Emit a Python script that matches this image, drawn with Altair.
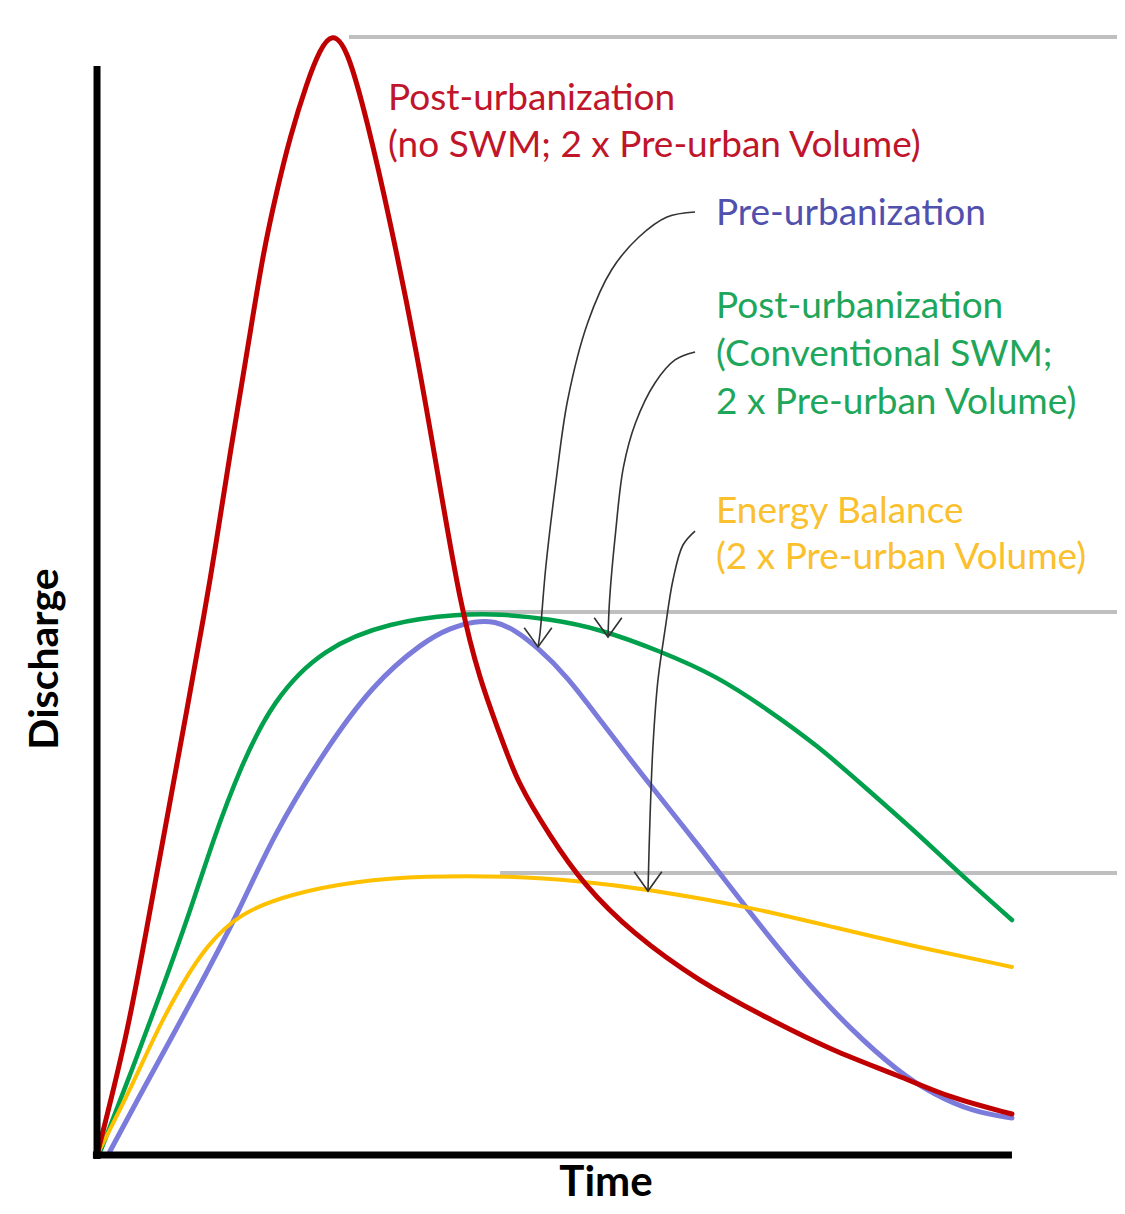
import altair as alt
import pandas as pd

# ---- data (arbitrary units: time 0-100, discharge 0-100) ----
red_time = [0, 3.28, 5.46, 7.65, 9.84, 11.80, 12.90, 14.54, 16.39, 18.14, 19.67, 21.09, 22.95,
            24.37, 25.68, 27.32, 29.51, 32.02, 34.97, 37.49, 39.67, 41.86, 44.04, 45.90, 49.51,
            53.11, 58.58, 65.90, 73.22, 80.44, 87.76, 93.22, 100]
red_q = [0, 10.64, 20.39, 30.14, 39.89, 48.75, 54.11, 62.79, 71.74, 80.68, 86.31, 91.06, 95.97,
         98.90, 100.4, 99.10, 92.58, 83.63, 71.74, 59.75, 49.37, 42.40, 37.66, 33.36, 28.53,
         24.24, 19.77, 15.47, 12.25, 9.30, 7.07, 5.10, 3.67]

blue_time = [1.20, 4.70, 8.31, 12.02, 15.63, 19.23, 24.70, 30.16, 35.63, 38.58, 41.31, 43.50,
             45.68, 48.09, 51.37, 54.97, 60.44, 65.90, 71.37, 76.83, 82.30, 87.76, 91.37, 95.74,
             100]
blue_q = [0, 5.37, 10.73, 16.37, 22.0, 28.53, 35.96, 42.13, 45.89, 47.14, 47.76, 47.76,
          46.96, 45.44, 42.84, 38.91, 33.09, 27.55, 21.65, 16.10, 11.27, 7.33, 5.46, 3.85, 3.31]

green_time = [0.22, 3.61, 6.89, 10.16, 12.68, 15.63, 19.23, 24.70, 32.02, 39.67, 44.04, 49.51,
              54.97, 61.53, 67.76, 73.22, 78.69, 84.15, 89.62, 93.99, 100]
green_q = [0, 7.16, 14.31, 21.74, 28.18, 34.62, 40.70, 45.35, 47.67, 48.39, 48.39, 47.94,
           47.05, 45.08, 42.84, 39.89, 36.67, 32.74, 28.80, 25.40, 21.02]

yellow_time = [0, 3.61, 6.56, 9.40, 12.02, 15.63, 21.09, 28.42, 35.63, 45.14, 52.79, 60.11,
               71.37, 80.44, 89.62, 100]
yellow_q = [0, 5.81, 11.18, 15.47, 18.78, 21.65, 23.35, 24.51, 24.96, 24.96, 24.51, 23.79,
            22.18, 20.39, 18.60, 16.82]

# reference (peak) lines
ref_start = [27.54, 40.0, 44.04]
ref_end = [112.4, 112.4, 112.4]
ref_q = [100, 48.57, 25.22]

# annotation arrows
arrow1_time = [65.36, 62.30, 59.23, 56.23, 53.62, 51.44, 50.14, 49.05, 48.42, 48.20]
arrow1_q = [84.35, 83.90, 82.11, 79.16, 74.42, 67.53, 60.11, 52.59, 46.69, 45.44]
arrow2_time = [65.36, 63.17, 60.98, 58.85, 57.54, 56.67, 56.02, 55.85]
arrow2_q = [71.82, 71.11, 69.05, 65.47, 61.54, 55.64, 49.64, 46.33]
arrow3_time = [65.36, 64.04, 62.95, 62.08, 61.31, 60.77, 60.44, 60.22]
arrow3_q = [55.81, 54.56, 51.43, 46.96, 42.49, 36.67, 30.14, 23.61]

# labels
label_text = ["Post-urbanization", "(no SWM; 2 x Pre-urban Volume)", "Pre-urbanization",
              "Post-urbanization", "(Conventional SWM;", "2 x Pre-urban Volume)",
              "Energy Balance", "(2 x Pre-urban Volume)"]
label_time = [31.80, 31.80, 67.65, 67.65, 67.65, 67.65, 67.65, 67.65]
label_q = [93.47, 89.27, 83.18, 74.87, 70.57, 66.28, 56.53, 52.41]
label_color = ["#C0152A", "#C0152A", "#5050AE", "#1EA65A", "#1EA65A", "#1EA65A",
               "#FBC02D", "#FBC02D"]

RED, BLUE, GREEN, YELLOW = "#C00000", "#7B7BDB", "#00A04C", "#FFC000"
FONT = "Lato"

x_scale = alt.Scale(domain=[-9.73, 111.48], nice=False, zero=False)
y_scale = alt.Scale(domain=[-4.56, 102.59], nice=False, zero=False)
X = lambda f="time": alt.X(f"{f}:Q", scale=x_scale, axis=None)
Y = lambda f="discharge": alt.Y(f"{f}:Q", scale=y_scale, axis=None)


def curve(ts, qs, color, width):
    df = pd.DataFrame({"time": ts, "discharge": qs})
    return alt.Chart(df).mark_line(color=color, strokeWidth=width, interpolate="basis",
                                   strokeCap="round").encode(x=X(), y=Y())


# gray reference lines
ref_df = pd.DataFrame({"time": ref_start, "time_end": ref_end, "discharge": ref_q})
refs = alt.Chart(ref_df).mark_rule(color="#BFBFBF", strokeWidth=4).encode(
    x=X(), x2="time_end:Q", y=Y())

# axis lines
yaxis_df = pd.DataFrame({"time": [0], "discharge": [-0.35], "top": [97.4]})
yaxis = alt.Chart(yaxis_df).mark_rule(color="black", strokeWidth=7).encode(
    x=X(), y=Y(), y2="top:Q")
xaxis_df = pd.DataFrame({"time": [-0.45], "end": [100], "discharge": [0]})
xaxis = alt.Chart(xaxis_df).mark_rule(color="black", strokeWidth=7).encode(
    x=X(), x2="end:Q", y=Y())

# arrows
arrow_rows = []
for i, (ts, qs) in enumerate([(arrow1_time, arrow1_q), (arrow2_time, arrow2_q),
                              (arrow3_time, arrow3_q)]):
    for k, (t, q) in enumerate(zip(ts, qs)):
        arrow_rows.append({"arrow": i, "k": k, "time": t, "discharge": q,
                           "tip": k == len(ts) - 1})
arrow_df = pd.DataFrame(arrow_rows)
arrows = alt.Chart(arrow_df).mark_line(color="#333333", strokeWidth=1.6,
                                       interpolate="catmull-rom").encode(
    x=X(), y=Y(), detail="arrow:N", order="k:Q")
heads = alt.Chart(arrow_df).transform_filter("datum.tip").mark_point(
    shape="M-1,-1.4L0,0L1,-1.4", filled=False, color="#333333", strokeWidth=1.6,
    size=760, opacity=1).encode(x=X(), y=Y())

# labels
lab_df = pd.DataFrame({"text": label_text, "time": label_time, "discharge": label_q,
                       "color": label_color})
labels = alt.Chart(lab_df).mark_text(align="left", baseline="alphabetic", font=FONT,
                                     fontSize=37).encode(
    x=X(), y=Y(), text="text:N", color=alt.Color("color:N", scale=None))

# axis titles
time_df = pd.DataFrame({"text": ["Time"], "time": [55.63], "discharge": [-3.67]})
time_title = alt.Chart(time_df).mark_text(align="center", baseline="alphabetic", font=FONT,
                                          fontSize=42, fontWeight="bold", color="black").encode(
    x=X(), y=Y(), text="text:N")
dis_df = pd.DataFrame({"text": ["Discharge"], "time": [-4.26], "discharge": [44.36]})
dis_title = alt.Chart(dis_df).mark_text(align="center", baseline="alphabetic", font=FONT,
                                        fontSize=41, fontWeight="bold", color="black",
                                        angle=270).encode(
    x=X(), y=Y(), text="text:N")

chart = alt.layer(
    refs,
    curve(blue_time, blue_q, BLUE, 5),
    curve(green_time, green_q, GREEN, 4.5),
    curve(yellow_time, yellow_q, YELLOW, 4),
    curve(red_time, red_q, RED, 5),
    yaxis, xaxis,
    arrows, heads,
    labels, time_title, dis_title,
).properties(
    width=1109, height=1198,
    autosize=alt.AutoSizeParams(type="none"),
    padding=0,
    background="white",
).configure_view(stroke=None)

chart.save("out.html", embed_options={"renderer": "svg", "actions": False})
